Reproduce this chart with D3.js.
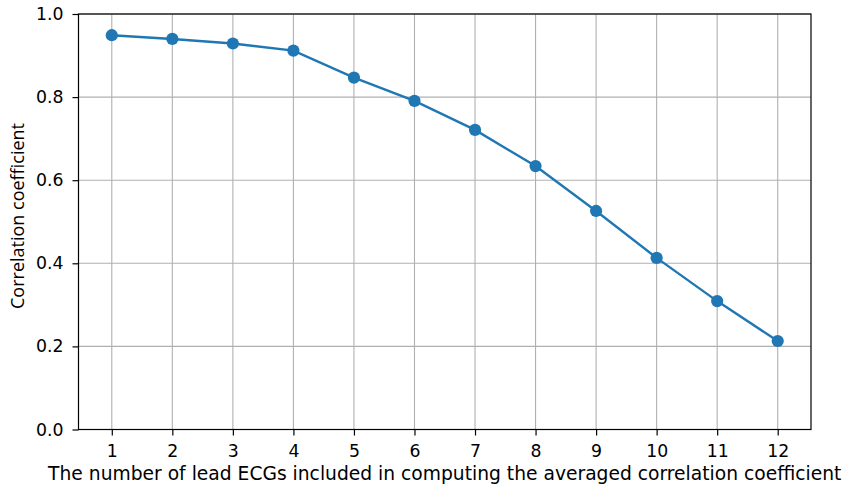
<!DOCTYPE html>
<html><head><meta charset="utf-8">
<script src="https://cdn.jsdelivr.net/npm/d3@7"></script>
<style>body{margin:0;background:#fff;} svg{display:block;font-family:"DejaVu Sans",sans-serif;}</style>
</head><body>
<svg id="c" width="845" height="492"></svg>
<script>
const leads = [1,2,3,4,5,6,7,8,9,10,11,12];
const corr = [0.949,0.940,0.929,0.912,0.847,0.791,0.721,0.634,0.526,0.413,0.309,0.213];
const yTicks = [0.0,0.2,0.4,0.6,0.8,1.0];

const svg = d3.select("#c");
const L=78.5, R=811, T=14, B=429.5;
const x = d3.scaleLinear().domain([0.45,12.55]).range([L,R]);
const y = d3.scaleLinear().domain([0,1]).range([B,T]);

const g = svg.append("g");
// grid
g.selectAll(".gx").data(leads).join("line").attr("x1",d=>x(d)).attr("x2",d=>x(d)).attr("y1",T).attr("y2",B)
 .attr("stroke","#b0b0b0").attr("stroke-width",1.1);
g.selectAll(".gy").data(yTicks).join("line").attr("y1",d=>y(d)).attr("y2",d=>y(d)).attr("x1",L).attr("x2",R)
 .attr("stroke","#b0b0b0").attr("stroke-width",1.1);

// axes
const xa = svg.append("g").attr("transform",`translate(0,${B})`)
 .call(d3.axisBottom(x).tickValues(leads).tickFormat(d3.format("d")).tickSize(6).tickPadding(9));
const ya = svg.append("g").attr("transform",`translate(${L},0)`)
 .call(d3.axisLeft(y).tickValues(yTicks).tickFormat(d3.format(".1f")).tickSize(6).tickPadding(9));
[xa,ya].forEach(a=>{a.select(".domain").remove(); a.selectAll("text").attr("font-size",17.3).attr("fill","#000").attr("font-family","DejaVu Sans");
 a.selectAll("line").attr("stroke","#000").attr("stroke-width",1.2);});

// frame
svg.append("rect").attr("x",L).attr("y",T).attr("width",R-L).attr("height",B-T).attr("fill","none").attr("stroke","#000").attr("stroke-width",1.2);

// line
const pts = leads.map((d,i)=>[d,corr[i]]);
svg.append("path").datum(pts).attr("d",d3.line().x(d=>x(d[0])).y(d=>y(d[1])))
 .attr("fill","none").attr("stroke","#1f77b4").attr("stroke-width",2.4);
svg.selectAll(".pt").data(pts).join("circle").attr("cx",d=>x(d[0])).attr("cy",d=>y(d[1])).attr("r",6.1).attr("fill","#1f77b4");

// labels
svg.append("text").attr("x",(L+R)/2).attr("y",480).attr("text-anchor","middle").attr("font-size",18.7)
 .text("The number of lead ECGs included in computing the averaged correlation coefficient");
svg.append("text").attr("transform",`translate(24,216) rotate(-90)`).attr("text-anchor","middle").attr("font-size",18)
 .attr("font-family","Open Sans")
 .text("Correlation coefficient");
</script>
</body></html>
